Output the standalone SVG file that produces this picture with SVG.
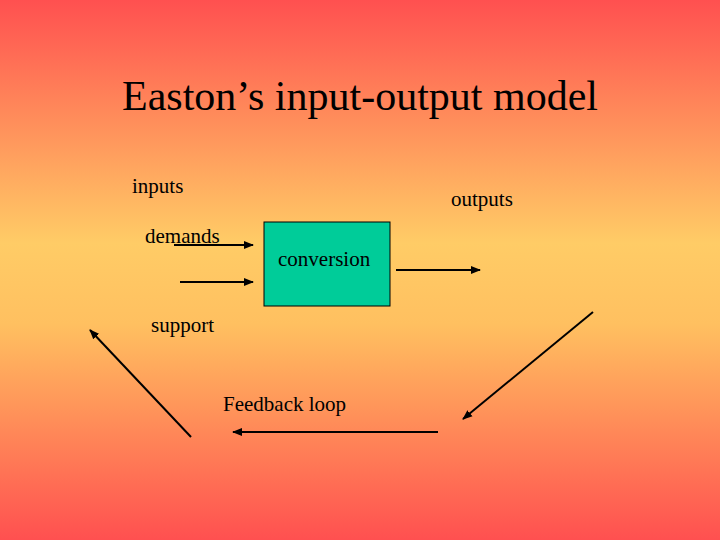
<svg xmlns="http://www.w3.org/2000/svg" width="720" height="540" viewBox="0 0 720 540">
<defs>
<linearGradient id="bg" x1="0" y1="0" x2="0" y2="1">
<stop offset="0" stop-color="#FF5050"/>
<stop offset="0.45" stop-color="#FFCC66"/>
<stop offset="0.6" stop-color="#FFC060"/>
<stop offset="1" stop-color="#FF5050"/>
</linearGradient>
<marker id="ah" viewBox="0 0 10 10" refX="9" refY="5" markerWidth="5" markerHeight="5" orient="auto"><path d="M0,1 L10,5 L0,9 z" fill="#000"/></marker>
<style>text{font-family:"Liberation Serif",serif;fill:#000}.l{font-size:21px}.c{stroke:#000;stroke-width:2;fill:none;marker-end:url(#ah)}</style>
</defs>
<rect width="720" height="540" fill="url(#bg)"/>
<text x="360" y="110" text-anchor="middle" font-size="42">Easton’s input-output model</text>
<g id="inputs"><text class="l" x="132" y="193">inputs</text></g>
<g id="outputs"><text class="l" x="451" y="206">outputs</text></g>
<g id="demands"><text class="l" x="145" y="243">demands</text></g>
<g id="support"><text class="l" x="151" y="332">support</text></g>
<g id="conversion"><rect x="264" y="222" width="126" height="84" fill="#00CC99" stroke="#000" stroke-width="1"/><text class="l" x="278" y="266">conversion</text></g>
<g id="feedback"><text class="l" x="223" y="411">Feedback loop</text></g>
<g id="connectors">
<line class="c" x1="174" y1="245" x2="253" y2="245"/>
<line class="c" x1="180" y1="282" x2="253" y2="282"/>
<line class="c" x1="396" y1="270" x2="480" y2="270"/>
<line class="c" x1="593" y1="312" x2="463" y2="419"/>
<line class="c" x1="438" y1="432" x2="233" y2="432"/>
<line class="c" x1="191" y1="437" x2="90" y2="330"/>
</g>
</svg>
